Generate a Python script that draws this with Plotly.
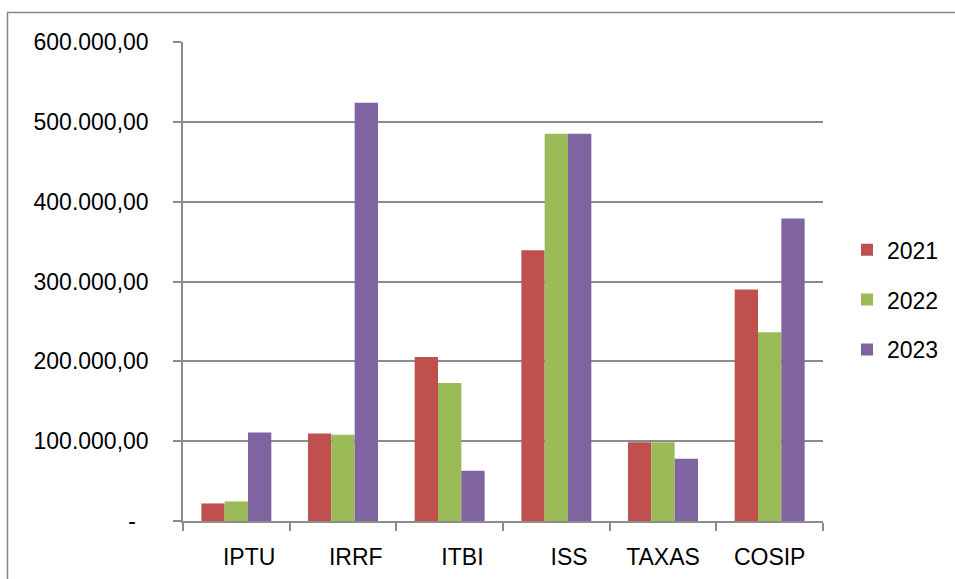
import plotly.graph_objects as go

categories = ["IPTU", "IRRF", "ITBI", "ISS", "TAXAS", "COSIP"]
category_labels = ["\u00a0\u00a0\u00a0\u00a0IPTU", "\u00a0\u00a0\u00a0\u00a0IRRF", "\u00a0\u00a0\u00a0\u00a0ITBI",
                   "\u00a0\u00a0\u00a0\u00a0ISS", "TAXAS", "COSIP"]
values_2021 = [22000, 109500, 205500, 339000, 98500, 290000]
values_2022 = [24500, 108000, 173000, 485000, 98500, 236500]
values_2023 = [111000, 524000, 63000, 485000, 78000, 379000]
series_names = ["2021", "2022", "2023"]
series_colors = ["#C0504D", "#9BBB59", "#8064A2"]
y_tickvals = [0, 100000, 200000, 300000, 400000, 500000, 600000]
y_ticktext = ["-\u00a0\u00a0", "100.000,00", "200.000,00", "300.000,00", "400.000,00", "500.000,00", "600.000,00"]

FONT = "Liberation Sans, Arial, sans-serif"
GRID = "#8C8C8C"

fig = go.Figure()
for name, vals, col in zip(series_names, [values_2021, values_2022, values_2023], series_colors):
    fig.add_trace(go.Bar(x=categories, y=vals, name=name, legendgroup=name,
                         marker=dict(color=col, line=dict(width=0))))

fig.update_layout(
    width=955, height=579, autosize=False,
    margin=dict(l=183, r=132, t=42, b=57.5, pad=0, autoexpand=False),
    paper_bgcolor="white", plot_bgcolor="white",
    barmode="group", bargap=0.344, bargroupgap=0,
    font=dict(family=FONT, size=23, color="#000000"),
    legend=dict(x=1.0375, y=0.462, xanchor="left", yanchor="middle",
                tracegroupgap=17, font=dict(size=23), bgcolor="rgba(0,0,0,0)"),
    shapes=[dict(type="rect", xref="paper", yref="paper",
                 x0=(7.5 - 183) / 640, x1=(975 - 183) / 640,
                 y0=(521.5 - 600) / 479.5, y1=(521.5 - 12.5) / 479.5,
                 line=dict(color="#868686", width=1.5), fillcolor="rgba(0,0,0,0)", layer="below")],
)
fig.update_xaxes(type="category", tickvals=categories, ticktext=category_labels,
                 showline=True, linecolor=GRID, linewidth=1.5,
                 ticks="outside", ticklen=8, tickcolor=GRID, tickwidth=1.5,
                 tickson="boundaries", showgrid=False, ticklabelstandoff=15, automargin=False)
fig.update_yaxes(range=[0, 600000], tickvals=y_tickvals, ticktext=y_ticktext,
                 showline=True, linecolor=GRID, linewidth=1.5,
                 ticks="outside", ticklen=8, tickcolor=GRID, tickwidth=1.5,
                 showgrid=True, gridcolor=GRID, gridwidth=1.5, zeroline=False,
                 ticklabelstandoff=20, automargin=False)

fig.write_html("out.html", config={"displayModeBar": False},
               post_script="document.body.style.margin='0';document.body.style.overflow='hidden';")
